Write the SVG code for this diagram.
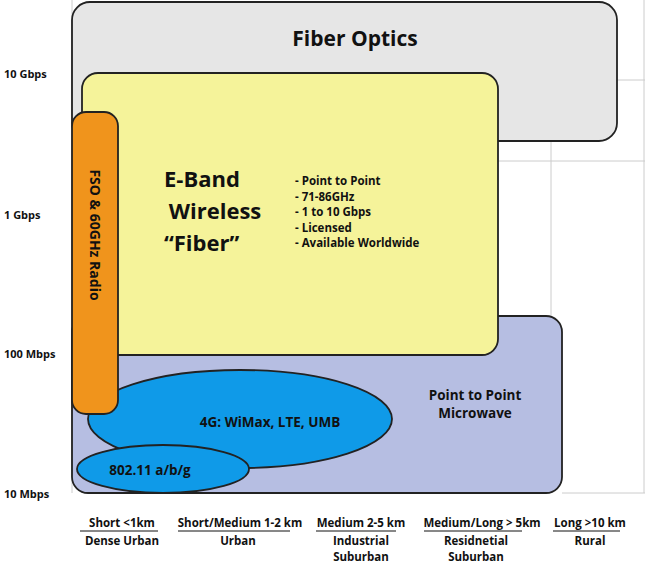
<svg xmlns="http://www.w3.org/2000/svg" width="647" height="566" viewBox="0 0 647 566">
<style>
text{font-family:"Open Sans","Liberation Sans",sans-serif;font-weight:bold;fill:#111}
.ax{font-size:11px}
.sh{stroke:#222;stroke-width:1.8}
.bot{font-size:11.5px;text-anchor:middle}
.grid{stroke:#ccc;stroke-width:1;fill:none}
</style>
<rect width="647" height="566" fill="#fff"/>
<g id="grid">
<line class="grid" x1="72" y1="80" x2="645" y2="80"/>
<line class="grid" x1="72" y1="161" x2="645" y2="161"/>
<line class="grid" x1="551" y1="141" x2="551" y2="493"/>
<line class="grid" x1="644" y1="0" x2="644" y2="493"/>
<line class="grid" x1="72" y1="0" x2="72" y2="493"/>
<line class="grid" x1="562" y1="493" x2="645" y2="493"/>
</g>
<g id="axis">
<text class="ax" x="4" y="78">10 Gbps</text>
<text class="ax" x="4" y="219">1 Gbps</text>
<text class="ax" x="4" y="358">100 Mbps</text>
<text class="ax" x="4" y="498">10 Mbps</text>
</g>
<g id="fiber"><rect class="sh" x="72" y="2" width="545" height="139" rx="18" fill="#e6e6e6"/>
<text x="355" y="46" font-size="21" text-anchor="middle">Fiber Optics</text></g>
<g id="microwave"><rect class="sh" x="72" y="316" width="490" height="177" rx="16" fill="#b6bee2"/>
<text x="475" y="400" font-size="13.5" text-anchor="middle">Point to Point</text>
<text x="475" y="418" font-size="13.5" text-anchor="middle">Microwave</text></g>
<g id="eband"><rect class="sh" x="82" y="73" width="416" height="282" rx="16" fill="#f5f39a"/>
<text x="164" y="187" font-size="22">E-Band</text>
<text x="215" y="219" font-size="22" text-anchor="middle">Wireless</text>
<text x="164" y="251" font-size="22">“Fiber”</text>
<g font-size="11.5"><text x="295" y="185">- Point to Point</text>
<text x="295" y="201">- 71-86GHz</text>
<text x="295" y="216">- 1 to 10 Gbps</text>
<text x="295" y="232">- Licensed</text>
<text x="295" y="247">- Available Worldwide</text></g></g>
<g id="lte"><ellipse class="sh" cx="240" cy="419" rx="152" ry="49" fill="#0f9ae8"/>
<text x="270" y="427" font-size="13.5" text-anchor="middle">4G: WiMax, LTE, UMB</text></g>
<g id="wifi"><ellipse class="sh" cx="163" cy="469" rx="86" ry="24" fill="#0f9ae8"/>
<text x="150" y="475" font-size="13.5" text-anchor="middle">802.11 a/b/g</text></g>
<g id="fso"><rect class="sh" x="72" y="112" width="46" height="302" rx="14" fill="#f0941c"/>
<text transform="translate(90,235) rotate(90)" font-size="14" text-anchor="middle">FSO  &amp; 60GHz Radio</text></g>
<g id="labels">
<text class="bot" x="122" y="527">Short &lt;1km</text>
<line x1="80" y1="531" x2="158" y2="531" stroke="#111"/>
<text class="bot" x="122" y="545">Dense Urban</text>
<text class="bot" x="240" y="527">Short/Medium  1-2 km</text>
<line x1="178" y1="531" x2="290" y2="531" stroke="#111"/>
<text class="bot" x="238" y="545">Urban</text>
<text class="bot" x="361" y="527">Medium 2-5 km</text>
<line x1="316" y1="531" x2="396" y2="531" stroke="#111"/>
<text class="bot" x="361" y="545">Industrial</text>
<text class="bot" x="361" y="561">Suburban</text>
<text class="bot" x="482" y="527">Medium/Long &gt; 5km</text>
<line x1="424" y1="531" x2="522" y2="531" stroke="#111"/>
<text class="bot" x="476" y="545">Residnetial</text>
<text class="bot" x="476" y="561">Suburban</text>
<text class="bot" x="590" y="527">Long &gt;10 km</text>
<line x1="553" y1="531" x2="620" y2="531" stroke="#111"/>
<text class="bot" x="590" y="545">Rural</text>
</g>
</svg>
